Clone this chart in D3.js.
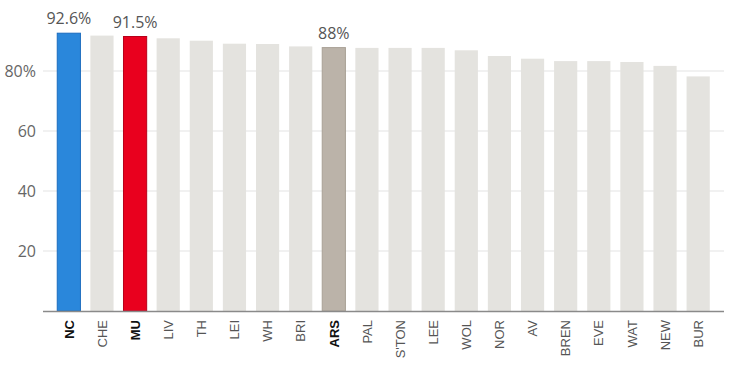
<!DOCTYPE html>
<html><head><meta charset="utf-8">
<script src="https://cdn.jsdelivr.net/npm/d3@7"></script>
<style>body{margin:0;background:#fff}svg{display:block}text{font-family:"Open Sans",sans-serif}</style>
</head><body><svg id="c" width="730" height="372"></svg>
<script>
const teams = ["NC","CHE","MU","LIV","TH","LEI","WH","BRI","ARS","PAL","S'TON","LEE","WOL","NOR","AV","BREN","EVE","WAT","NEW","BUR"];
const values = [92.6,91.8,91.5,90.9,90.1,89.1,89.0,88.2,87.8,87.7,87.7,87.7,86.9,85.0,84.1,83.3,83.3,83.0,81.7,78.2];
const highlight = {"NC":"#2a87db","MU":"#e9001e","ARS":"#bbb3a9"};
const highlightStroke = {"NC":"#1b6cbf","MU":"#b8001a","ARS":"#a8a095"};
const valueLabels = {"NC":"92.6%","MU":"91.5%","ARS":"88%"};
const yTicks = [20,40,60,80];

const svg = d3.select("#c");
const x = d3.scaleBand().domain(teams).range([43,724]).paddingInner(0.3).paddingOuter(0.43);
const y = d3.scaleLinear().domain([0,100]).range([311,11]);

svg.append("g").selectAll("line").data(yTicks).join("line")
  .attr("x1",43).attr("x2",724).attr("y1",d=>y(d)).attr("y2",d=>y(d))
  .attr("stroke","#e3e3e3").attr("stroke-width",1);
svg.append("g").selectAll("text").data(yTicks).join("text")
  .attr("x",36).attr("y",d=>y(d)).attr("dy","0.36em").attr("text-anchor","end")
  .attr("font-size",16).attr("fill","#666")
  .text(d=>d===80? d+"%" : d);

svg.append("g").selectAll("rect").data(teams).join("rect")
  .attr("x",d=>x(d)).attr("width",x.bandwidth())
  .attr("y",(d,i)=>y(values[i])).attr("height",(d,i)=>y(0)-y(values[i]))
  .attr("fill",d=>highlight[d]||"#e4e3df")
  .attr("stroke",d=>highlightStroke[d]||"none").attr("stroke-width",1);

svg.append("line").attr("x1",43).attr("x2",724).attr("y1",y(0)+0.5).attr("y2",y(0)+0.5)
  .attr("stroke","#8a8a8a").attr("stroke-width",1.5);

svg.append("g").selectAll("text").data(teams.filter(t=>valueLabels[t])).join("text")
  .attr("x",d=>x(d)+x.bandwidth()/2).attr("y",d=>y(values[teams.indexOf(d)])-9)
  .attr("text-anchor","middle").attr("font-size",16).attr("fill","#555")
  .text(d=>valueLabels[d]);

svg.append("g").selectAll("text").data(teams).join("text")
  .attr("transform",d=>`translate(${x(d)+x.bandwidth()/2},320) rotate(-90)`)
  .attr("text-anchor","end").attr("dy","0.36em").attr("font-size",13)
  .style("font-family","'Liberation Sans',Arial,sans-serif")
  .attr("fill",d=>highlight[d]?"#111":"#555")
  .attr("font-weight",d=>highlight[d]?"bold":"normal")
  .text(d=>d);
</script></body></html>
